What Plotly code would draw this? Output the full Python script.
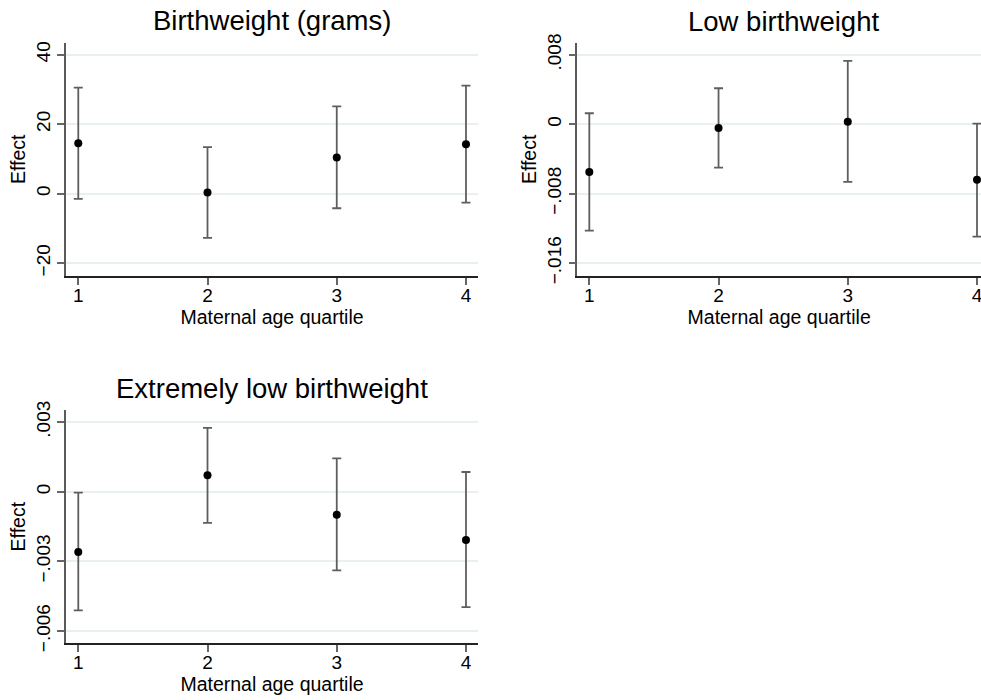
import plotly.graph_objects as go

# ---- data ----
quartiles = [1, 2, 3, 4]

bw_effect = [14.5, 0.3, 10.4, 14.2]
bw_upper = [30.5, 13.4, 25.1, 31.1]
bw_lower = [-1.5, -12.7, -4.2, -2.6]
bw_ticks = [-20, 0, 20, 40]
bw_ticktext = ["\u221220", "0", "20", "40"]

lbw_effect = [-0.0055, -0.00043, 0.0003, -0.0064]
lbw_upper = [0.00127, 0.00415, 0.0073, 0.00007]
lbw_lower = [-0.01226, -0.0050, -0.00665, -0.01295]
lbw_ticks = [-0.016, -0.008, 0, 0.008]
lbw_ticktext = ["\u2212.016", "\u2212.008", "0", ".008"]

elbw_effect = [-0.0026, 0.00071, -0.00099, -0.00208]
elbw_upper = [-0.00004, 0.00275, 0.00144, 0.00085]
elbw_lower = [-0.00511, -0.00134, -0.00339, -0.00497]
elbw_ticks = [-0.006, -0.003, 0, 0.003]
elbw_ticktext = ["\u2212.006", "\u2212.003", "0", ".003"]

titles = ["Birthweight (grams)", "Low birthweight", "Extremely low birthweight"]
x_title = "Maternal age quartile"
y_title = "Effect"

# ---- layout geometry ----
W, H = 981, 700
FONT = "Liberation Sans, Arial, Helvetica, sans-serif"
ERR_COLOR = "#5e5e5e"
ZERO_COLOR = "#c8325a"
GRID_COLOR = "#e9f0f1"

panels = [
    dict(eff=bw_effect, up=bw_upper, lo=bw_lower, ticks=bw_ticks, tt=bw_ticktext,
         xdom=[66 / W, 478 / W], ydom=[1 - 276 / H, 1 - 42.7 / H],
         xr=[0.905, 4.093], yr=[-23.7, 43.45], title_xy=(272, 20.5)),
    dict(eff=lbw_effect, up=lbw_upper, lo=lbw_lower, ticks=lbw_ticks, tt=lbw_ticktext,
         xdom=[577.3 / W, 1.0], ydom=[1 - 276 / H, 1 - 42.7 / H],
         xr=[0.907, 4.031], yr=[-0.01749, 0.0094], title_xy=(783, 21.5)),
    dict(eff=elbw_effect, up=elbw_upper, lo=elbw_lower, ticks=elbw_ticks, tt=elbw_ticktext,
         xdom=[66 / W, 478 / W], ydom=[1 - 643.3 / H, 1 - 410 / H],
         xr=[0.905, 4.093], yr=[-0.00653, 0.00352], title_xy=(272, 388)),
]

fig = go.Figure()
layout = dict(
    template="none",
    width=W, height=H,
    margin=dict(l=0, r=0, t=0, b=0, pad=0, autoexpand=False),
    paper_bgcolor="white", plot_bgcolor="white",
    showlegend=False,
    font=dict(family=FONT, color="black", size=19),
    shapes=[], annotations=[],
)

for i, p in enumerate(panels):
    n = "" if i == 0 else str(i + 1)
    xa, ya = "x" + n, "y" + n
    plus = [u - e for u, e in zip(p["up"], p["eff"])]
    minus = [e - l for e, l in zip(p["eff"], p["lo"])]
    fig.add_trace(go.Scatter(
        x=quartiles, y=p["eff"], mode="markers",
        marker=dict(color="black", size=8),
        error_y=dict(type="data", symmetric=False, array=plus, arrayminus=minus,
                     color=ERR_COLOR, thickness=1.8, width=4.5),
        xaxis=xa, yaxis=ya, cliponaxis=False, hoverinfo="skip",
    ))
    layout["xaxis" + n] = dict(
        domain=p["xdom"], range=p["xr"], anchor=ya, automargin=False,
        tickmode="array", tickvals=quartiles, ticktext=[str(q) for q in quartiles],
        ticks="outside", ticklen=7, tickwidth=1.5, tickcolor="#666666",
        ticklabelstandoff=-6, ticklabeloverflow="allow",
        showline=True, linecolor="#222222", linewidth=1.5,
        showgrid=False, zeroline=False,
        tickfont=dict(size=19, color="black"),
        title=dict(text=x_title, font=dict(size=19.5, color="black"), standoff=4),
    )
    layout["yaxis" + n] = dict(
        domain=p["ydom"], range=p["yr"], anchor=xa, automargin=False,
        tickmode="array", tickvals=p["ticks"], ticktext=p["tt"],
        tickangle=-90, ticklabeloverflow="allow",
        ticks="outside", ticklen=7, tickwidth=1.5, tickcolor="#666666",
        showline=True, linecolor="#5a5a5a", linewidth=1.5,
        showgrid=True, gridcolor=GRID_COLOR, gridwidth=1.5, zeroline=False,
        tickfont=dict(size=19, color="black"),
        title=dict(text=y_title, font=dict(size=19.5, color="black"), standoff=2),
    )
    layout["shapes"].append(dict(
        type="line", xref=xa + " domain", yref=ya, x0=0, x1=1, y0=0, y1=0,
        line=dict(color=ZERO_COLOR, width=1.5), layer="below",
    ))
    tx, ty = p["title_xy"]
    layout["annotations"].append(dict(
        text=titles[i], xref="paper", yref="paper", x=tx / W, y=1 - ty / H,
        xanchor="center", yanchor="middle", showarrow=False,
        font=dict(size=27.5, color="black"),
    ))

fig.update_layout(**layout)
fig.write_html(
    "out.html",
    config={"displayModeBar": False},
    post_script="document.body.style.margin='0';document.body.style.overflow='hidden';",
)
